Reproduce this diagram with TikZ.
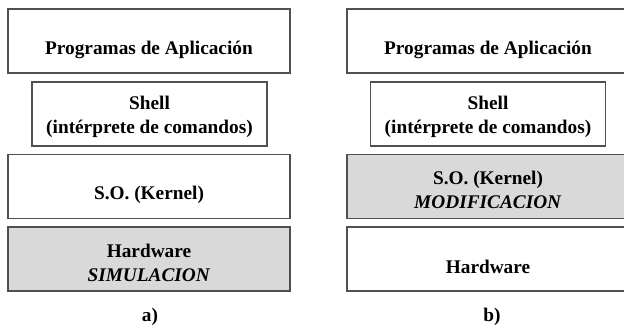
\documentclass[tikz,border=0pt]{standalone}
\usepackage{fontspec}
\setmainfont{Liberation Serif}
\usetikzlibrary{calc}
\definecolor{edge}{HTML}{505050}
\definecolor{shade}{HTML}{D9D9D9}
\begin{document}
\begin{tikzpicture}[x=1pt,y=-1pt,
  layer/.style={draw=edge,line width=1.1pt,rectangle,inner sep=0pt,minimum width=282pt,minimum height=64pt},
  shellbox/.style={draw=edge,line width=1.1pt,rectangle,inner sep=0pt,minimum width=235pt,minimum height=64pt},
  txt/.style={inner sep=0pt,align=center,font=\fontsize{19.3}{24}\selectfont\bfseries}]
\useasboundingbox (0,0) rectangle (624,328);
\clip (0,0) rectangle (624,328);
% panel a
\node[layer] (a1) at (149,41) {};
\node[shellbox] (a2) at (149.5,114) {};
\node[layer] (a3) at (149,186.5) {};
\node[layer,fill=shade] (a4) at (149,259) {};
\node[txt] (ta1) at ($(a1)+(0,8.5)$) {Programas de Aplicación};
\node[txt] (ta2) at ($(a2)+(0,3)$) {Shell\\(intérprete de comandos)};
\node[txt] (ta3) at ($(a3)+(0,8.5)$) {S.O. (Kernel)};
\node[txt] (ta4) at ($(a4)+(0,3.5)$) {Hardware\\\textit{SIMULACION}};
\node[txt] (la) at (150,317) {a)};
% panel b
\node[layer] (b1) at (488,41) {};
\node[shellbox] (b2) at (488,114) {};
\node[layer,fill=shade] (b3) at (488,186.5) {};
\node[layer] (b4) at (488,259) {};
\node[txt] (tb1) at ($(b1)+(0,8.5)$) {Programas de Aplicación};
\node[txt] (tb2) at ($(b2)+(0,3)$) {Shell\\(intérprete de comandos)};
\node[txt] (tb3) at ($(b3)+(0,3.5)$) {S.O. (Kernel)\\\textit{MODIFICACION}};
\node[txt] (tb4) at ($(b4)+(0,8)$) {Hardware};
\node[txt] (lb) at (492,317) {b)};
\end{tikzpicture}
\end{document}
